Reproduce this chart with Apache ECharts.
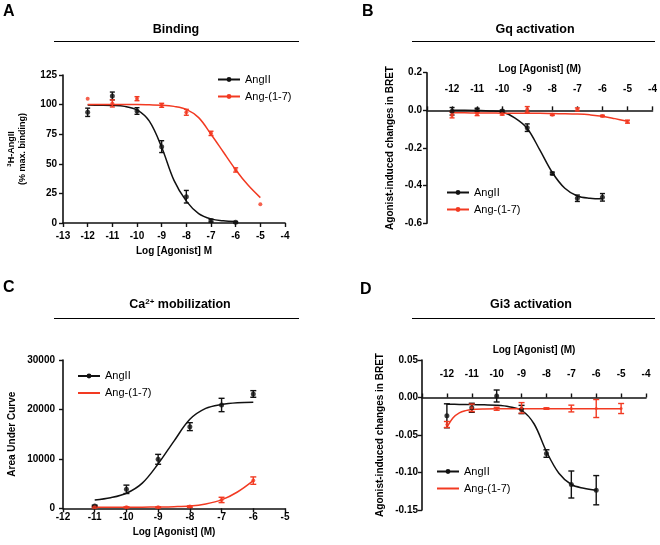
<!DOCTYPE html>
<html>
<head>
<meta charset="utf-8">
<script src="https://cdn.jsdelivr.net/npm/echarts@6/dist/echarts.min.js"></script>
<style>
html,body{margin:0;padding:0;background:#fff;}
#chart{width:660px;height:545px;}
</style>
</head>
<body>
<div id="chart"></div>
<script>
// ---------- data ----------
const doses = [-12, -11, -10, -9, -8, -7, -6, -5];
const dosesCa = [-11, -10, -9, -8, -7, -6];
const fitX = [-12, -11.5, -11, -10.5, -10, -9.5, -9, -8.5, -8, -7.5, -7, -6.5, -6, -5.5, -5];
const fitXCa = [-11, -10.5, -10, -9.5, -9, -8.5, -8, -7.5, -7, -6.5, -6];
const fitXGiAng17 = [-12, -11.75, -11.5, -11.25, -11, -10.5, -10, -9, -8, -7, -6, -5];

// A: Binding
const bindAngII = [93.5, 107.3, 94.6, 64.5, 22.2, 2.0, 0.6];
const bindAngIIErr = [3.5, 3.3, 2.8, 5.0, 5.3, 1.2, 0.6];
const bindAng17 = [105, 101, 105, 99.4, 93.5, 75.7, 44.8, 15.8];
const bindAng17Err = [0, 3, 1.7, 1.7, 2.5, 1.8, 1.8, 0];
const bindFitAngII = [99.6, 99.5, 99.3, 98.5, 95.5, 86, 64, 36, 18.5, 8, 3.5, 1.8, 1.2];
const bindFitAng17 = [100, 100, 100, 100, 100, 99.8, 99.5, 98.5, 96, 89, 75, 60, 45, 32, 21.4];

// B: Gq activation
const gqAngII = [-0.005, 0.003, -0.004, -0.092, -0.335, -0.467, -0.462];
const gqAngIIErr = [0.02, 0.008, 0.005, 0.02, 0.007, 0.017, 0.02];
const gqAng17 = [-0.025, -0.02, -0.02, 0.005, -0.023, 0.005, -0.03, -0.06];
const gqAng17Err = [0.015, 0.008, 0.005, 0.015, 0.004, 0.008, 0.004, 0.008];
const gqFitAngII = [0, 0, -0.001, -0.003, -0.009, -0.04, -0.096, -0.21, -0.33, -0.414, -0.455, -0.467, -0.47];
const gqFitAng17 = [-0.013, -0.013, -0.014, -0.014, -0.015, -0.015, -0.016, -0.016, -0.017, -0.018, -0.02, -0.024, -0.031, -0.044, -0.058];

// C: Ca2+ mobilization
const caAngII = [470, 3840, 9910, 16520, 20900, 23130];
const caAngIIErr = [150, 850, 1000, 800, 1350, 670];
const caAng17 = [200, 200, 200, 340, 1690, 5600];
const caAng17Err = [100, 100, 100, 150, 540, 750];
const caFitAngII = [1700, 2150, 3050, 5100, 9000, 13600, 18000, 20200, 21000, 21350, 21450];
const caFitAng17 = [200, 200, 210, 230, 260, 320, 460, 880, 1700, 3300, 5600];

// D: Gi3 activation
const giAngII = [-0.0244, -0.0137, 0.002, -0.016, -0.0747, -0.116, -0.1236];
const giAngIIErr = [0.016, 0.006, 0.008, 0.0055, 0.005, 0.018, 0.0195];
const giAng17 = [-0.036, -0.0138, -0.015, -0.0138, -0.0147, -0.0147, -0.0147, -0.0147];
const giAng17Err = [0.004, 0.005, 0.002, 0.007, 0.001, 0.0045, 0.012, 0.0067];
const giFitAngII = [-0.009, -0.0092, -0.0095, -0.0098, -0.0103, -0.0122, -0.017, -0.035, -0.072, -0.101, -0.116, -0.121, -0.1236];
const giFitAng17 = [-0.040, -0.027, -0.0205, -0.0175, -0.016, -0.0152, -0.015, -0.015, -0.015, -0.015, -0.015, -0.015];

// ---------- styling ----------
const FONT = 'Liberation Sans, Arial, sans-serif';
const BLACK = '#111111';
const RED = '#f23a22';

function pairs(xs, ys) { return ys.map((y, i) => [xs[i], y]); }
function triples(xs, ys, es) { return ys.map((y, i) => [xs[i], y, es[i]]); }

function curve(name, idx, data, color) {
  return { type: 'line', name, xAxisIndex: idx, yAxisIndex: idx, data, smooth: 0.35,
    symbol: 'none', showSymbol: false, lineStyle: { color, width: 1.5 }, itemStyle: { color }, z: 2, silent: true };
}
function points(name, idx, data, color, size) {
  return { type: 'scatter', name, xAxisIndex: idx, yAxisIndex: idx, data, symbol: 'circle', symbolSize: size,
    itemStyle: { color }, z: 4, silent: true };
}
function errs(name, idx, data, color, capW) {
  return {
    type: 'custom', name, xAxisIndex: idx, yAxisIndex: idx, data, z: 3, silent: true,
    encode: { x: 0, y: 1 },
    renderItem: function (params, api) {
      const x = api.value(0), y = api.value(1), e = api.value(2);
      if (!e) return null;
      const t = api.coord([x, y + e]), b = api.coord([x, y - e]);
      const hw = capW / 2;
      const st = { stroke: color, lineWidth: 1.4 };
      return { type: 'group', children: [
        { type: 'line', shape: { x1: t[0], y1: t[1], x2: b[0], y2: b[1] }, style: st },
        { type: 'line', shape: { x1: t[0] - hw, y1: t[1], x2: t[0] + hw, y2: t[1] }, style: st },
        { type: 'line', shape: { x1: b[0] - hw, y1: b[1], x2: b[0] + hw, y2: b[1] }, style: st }
      ]};
    }
  };
}

const axisLineStyle = { show: true, lineStyle: { color: BLACK, width: 1.6 } };
const axisTick = { show: true, length: 4, lineStyle: { color: BLACK, width: 1.4 } };
const labelStyle = { color: '#000', fontFamily: FONT, fontWeight: 'bold', fontSize: 10 };
const nameStyle = { color: '#000', fontFamily: FONT, fontWeight: 'bold', fontSize: 10 };

function xAxisBottom(idx, min, max, name, gap, margin) {
  return { type: 'value', gridIndex: idx, min, max, interval: 1, position: 'bottom',
    axisLine: Object.assign({ onZero: false }, axisLineStyle), axisTick,
    axisLabel: Object.assign({ margin }, labelStyle), splitLine: { show: false },
    name, nameLocation: 'middle', nameGap: gap, nameTextStyle: nameStyle };
}
// top-positioned x axis moved down (negative offset) so that it sits on the y = 0 line
function xAxisTop(idx, name, gap, margin, offset) {
  return { type: 'value', gridIndex: idx, min: -13, max: -4, interval: 1, position: 'top', offset,
    axisLine: Object.assign({ onZero: false }, axisLineStyle), axisTick,
    axisLabel: Object.assign({ margin, formatter: v => (v === -13 ? '' : String(v)) }, labelStyle),
    splitLine: { show: false },
    name, nameLocation: 'middle', nameGap: gap, nameTextStyle: nameStyle };
}
function yAxis(idx, min, max, interval, fmt, name, gap, margin, extraName) {
  return { type: 'value', gridIndex: idx, min, max, interval, position: 'left',
    axisLine: Object.assign({ onZero: false }, axisLineStyle), axisTick,
    axisLabel: Object.assign({ margin, formatter: fmt }, labelStyle), splitLine: { show: false },
    name, nameLocation: 'middle', nameRotate: 90, nameGap: gap,
    nameTextStyle: Object.assign({}, nameStyle, extraName || {}) };
}

function legend(prefix, left, top, hideRedSymbol) {
  return { orient: 'vertical', left, top, padding: 0, itemWidth: 22, itemHeight: 6, itemGap: 6,
    selectedMode: false,
    data: [{ name: prefix + '|AngII' },
           hideRedSymbol ? { name: prefix + '|Ang-(1-7)', itemStyle: { opacity: 0 } } : { name: prefix + '|Ang-(1-7)' }],
    formatter: n => n.split('|')[1],
    textStyle: { color: '#000', fontFamily: FONT, fontSize: 11 } };
}

function letter(t, left, top) {
  return { text: t, left, top, padding: 0, textStyle: { fontFamily: FONT, fontWeight: 'bold', fontSize: 16, color: '#000' } };
}
function panelTitle(t, left, top) {
  return { text: t, left, top, padding: 0, textAlign: 'center',
    textStyle: { fontFamily: FONT, fontWeight: 'bold', fontSize: 12.5, color: '#000',
      rich: { sup: { fontFamily: FONT, fontWeight: 'bold', fontSize: 8, verticalAlign: 'top', padding: [0, 0, 5, 0] },
              n: { fontFamily: FONT, fontWeight: 'bold', fontSize: 12.5 } } } };
}

const option = {
  animation: false,
  backgroundColor: '#fff',
  title: [
    letter('A', 3, 4), letter('B', 362, 4), letter('C', 3, 280), letter('D', 360, 282),
    panelTitle('Binding', 176, 23), panelTitle('Gq activation', 535, 23),
    panelTitle('{n|Ca}{sup|2+}{n| mobilization}', 180, 298), panelTitle('Gi3 activation', 531, 298)
  ],
  graphic: [
    { type: 'line', shape: { x1: 54, y1: 41.5, x2: 299, y2: 41.5 }, style: { stroke: '#000', lineWidth: 1.2 } },
    { type: 'line', shape: { x1: 412, y1: 41.5, x2: 655, y2: 41.5 }, style: { stroke: '#000', lineWidth: 1.2 } },
    { type: 'line', shape: { x1: 54, y1: 318.5, x2: 299, y2: 318.5 }, style: { stroke: '#000', lineWidth: 1.2 } },
    { type: 'line', shape: { x1: 412, y1: 318.5, x2: 655, y2: 318.5 }, style: { stroke: '#000', lineWidth: 1.2 } }
  ],
  grid: [
    { left: 63, top: 75, width: 222, height: 148 },
    { left: 427, top: 72.7, width: 226, height: 150.6 },
    { left: 63, top: 360, width: 222, height: 148.3 },
    { left: 422, top: 360, width: 224, height: 150 }
  ],
  xAxis: [
    xAxisBottom(0, -13, -4, 'Log [Agonist] M', 23, 8),
    xAxisTop(1, 'Log [Agonist] (M)', 36, 16, -37.65),
    xAxisBottom(2, -12, -5, 'Log [Agonist] (M)', 19, 4),
    xAxisTop(3, 'Log [Agonist] (M)', 42, 18, -37.5)
  ],
  yAxis: [
    yAxis(0, 0, 125, 25, v => String(v), '{s|3}H-AngII\n(% max. binding)', 35, 6,
      { fontSize: 9, lineHeight: 11, rich: { s: { fontFamily: FONT, fontWeight: 'bold', fontSize: 6, verticalAlign: 'top', padding: [0, 0, 4, 0] } } }),
    yAxis(1, -0.6, 0.2, 0.2, v => v.toFixed(1), 'Agonist-induced changes in BRET', 32, 5),
    yAxis(2, 0, 30000, 10000, v => String(v), 'Area Under Curve', 46, 8),
    yAxis(3, -0.15, 0.05, 0.05, v => v.toFixed(2), 'Agonist-induced changes in BRET', 37, 4)
  ],
  legend: [
    legend('A', 217, 74, false),
    legend('B', 446, 187, false),
    legend('C', 77, 370.5, true),
    legend('D', 436, 466, true)
  ],
  series: [
    // A
    curve('A|AngII', 0, pairs(fitX, bindFitAngII), BLACK),
    curve('A|Ang-(1-7)', 0, pairs(fitX, bindFitAng17), RED),
    errs('A|AngII', 0, triples(doses, bindAngII, bindAngIIErr), BLACK, 5),
    errs('A|Ang-(1-7)', 0, triples(doses, bindAng17, bindAng17Err), RED, 5),
    points('A|AngII', 0, pairs(doses, bindAngII), BLACK, 5),
    points('A|Ang-(1-7)', 0, pairs(doses, bindAng17), RED, 4),
    // B
    curve('B|AngII', 1, pairs(fitX, gqFitAngII), BLACK),
    curve('B|Ang-(1-7)', 1, pairs(fitX, gqFitAng17), RED),
    errs('B|AngII', 1, triples(doses, gqAngII, gqAngIIErr), BLACK, 5),
    errs('B|Ang-(1-7)', 1, triples(doses, gqAng17, gqAng17Err), RED, 5),
    points('B|AngII', 1, pairs(doses, gqAngII), BLACK, 5),
    points('B|Ang-(1-7)', 1, pairs(doses, gqAng17), RED, 4),
    // C
    curve('C|AngII', 2, pairs(fitXCa, caFitAngII), BLACK),
    curve('C|Ang-(1-7)', 2, pairs(fitXCa, caFitAng17), RED),
    errs('C|AngII', 2, triples(dosesCa, caAngII, caAngIIErr), BLACK, 6),
    errs('C|Ang-(1-7)', 2, triples(dosesCa, caAng17, caAng17Err), RED, 6),
    points('C|AngII', 2, pairs(dosesCa, caAngII), BLACK, 5),
    points('C|Ang-(1-7)', 2, pairs(dosesCa, caAng17), RED, 4),
    // D
    curve('D|AngII', 3, pairs(fitX, giFitAngII), BLACK),
    curve('D|Ang-(1-7)', 3, pairs(fitXGiAng17, giFitAng17), RED),
    errs('D|AngII', 3, triples(doses, giAngII, giAngIIErr), BLACK, 6),
    errs('D|Ang-(1-7)', 3, triples(doses, giAng17, giAng17Err), RED, 6),
    points('D|AngII', 3, pairs(doses, giAngII), BLACK, 5),
    points('D|Ang-(1-7)', 3, pairs(doses, giAng17), RED, 3)
  ]
};

const chart = echarts.init(document.getElementById('chart'), null, { renderer: 'canvas' });
chart.setOption(option);
</script>
</body>
</html>
